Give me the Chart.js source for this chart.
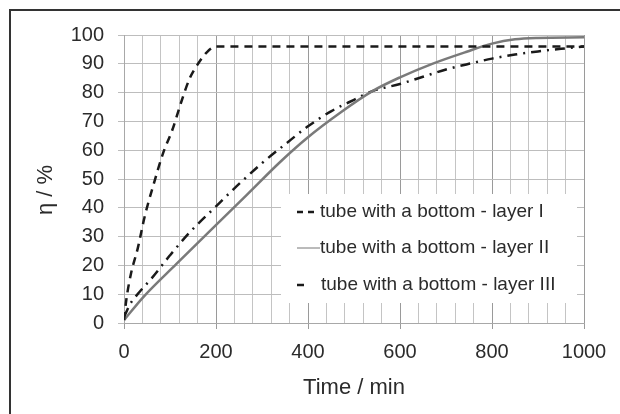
<!DOCTYPE html>
<html>
<head>
<meta charset="utf-8">
<style>
  html, body { margin: 0; padding: 0; background: #fff; }
  #wrap { width: 620px; height: 414px; position: relative; }
</style>
<script src="https://cdn.jsdelivr.net/npm/chart.js@4/dist/chart.umd.min.js"></script>
</head>
<body>
<div id="wrap"><canvas id="eta"></canvas></div>
<script>
// time in minutes, eta in %
var layer1Time = [0, 5, 15, 30, 45, 65, 85, 105, 125, 143, 161, 180, 200, 300, 400, 500, 600, 700, 800, 900, 1000];
var layer1Eta  = [1, 8, 17, 26, 37, 48.5, 59, 67, 77, 85, 90, 94, 96, 96, 96, 96, 96, 96, 96, 96, 96];

var layer2Time = [0, 42, 114, 187, 267, 340, 400, 470, 540, 600, 670, 745, 800, 850, 900, 1000];
var layer2Eta  = [1, 9, 20.5, 32, 44.5, 56, 64.5, 73, 80.5, 85.3, 90, 94.2, 97, 98.5, 99, 99.2];

var layer3Time = [0, 13, 35, 60, 100, 143, 200, 245, 300, 350, 400, 450, 500, 540, 600, 650, 700, 750, 800, 850, 900, 950, 1000];
var layer3Eta  = [2, 6.5, 11, 15.5, 23.5, 31.5, 40.5, 47.5, 55.5, 62, 68.3, 73.5, 77.5, 80.5, 83, 85.5, 88, 90, 91.8, 93.2, 94.3, 95.2, 96];

var seriesNames = [
    'tube with a bottom - layer I',
    'tube with a bottom - layer II',
    'tube with a bottom - layer III'
];

var xTicks = [0, 200, 400, 600, 800, 1000];

function toPoints(xs, ys) {
    return xs.map(function (x, i) { return { x: x, y: ys[i] }; });
}

var FONT = "'Liberation Sans', Arial, sans-serif";
var TXT = '#2b2b2b';

// frame, y title and the white legend box
var decor = {
    id: 'decor',
    beforeDraw: function (chart) {
        var ctx = chart.ctx;
        ctx.save();
        ctx.strokeStyle = '#333';
        ctx.lineWidth = 2;
        ctx.beginPath();
        ctx.moveTo(10, 414);
        ctx.lineTo(10, 10);
        ctx.lineTo(620, 10);
        ctx.stroke();
        ctx.restore();
    },
    beforeDatasetsDraw: function (chart) {
        var ctx = chart.ctx;
        ctx.save();
        ctx.fillStyle = '#fff';
        ctx.fillRect(281, 194, 296, 109);

        var rows = [212, 248, 285];
        var styles = [
            { dash: [6, 5], color: '#1a1a1a', w: 2.5, x0: 297, x1: 318, tx: 320 },
            { dash: [], color: '#777', w: 1, x0: 297, x1: 320, tx: 320 },
            { dash: [], color: '#1a1a1a', w: 2.5, x0: 297, x1: 304, tx: 321 }
        ];
        ctx.font = '19px ' + FONT;
        ctx.textBaseline = 'middle';
        ctx.fillStyle = TXT;
        for (var i = 0; i < 3; i++) {
            var s = styles[i];
            ctx.strokeStyle = s.color;
            ctx.lineWidth = s.w;
            ctx.setLineDash(s.dash);
            ctx.beginPath();
            ctx.moveTo(s.x0, rows[i]);
            ctx.lineTo(s.x1, rows[i]);
            ctx.stroke();
            ctx.fillText(seriesNames[i], s.tx, rows[i]);
        }
        ctx.setLineDash([]);
        ctx.restore();
    },
    afterDraw: function (chart) {
        var ctx = chart.ctx;
        ctx.save();
        ctx.translate(46, 190);
        ctx.rotate(-Math.PI / 2);
        ctx.font = '22px ' + FONT;
        ctx.fillStyle = TXT;
        ctx.textAlign = 'center';
        ctx.textBaseline = 'middle';
        ctx.fillText('η / %', 0, 0);
        ctx.restore();
    }
};

new Chart(document.getElementById('eta'), {
    type: 'scatter',
    data: {
        datasets: [{
            label: seriesNames[0],
            data: toPoints(layer1Time, layer1Eta),
            showLine: true,
            borderColor: '#1a1a1a',
            borderWidth: 2.5,
            borderDash: [8, 6],
            pointRadius: 0,
            cubicInterpolationMode: 'monotone'
        }, {
            label: seriesNames[1],
            data: toPoints(layer2Time, layer2Eta),
            showLine: true,
            borderColor: '#7a7a7a',
            borderWidth: 2.5,
            pointRadius: 0,
            cubicInterpolationMode: 'monotone'
        }, {
            label: seriesNames[2],
            data: toPoints(layer3Time, layer3Eta),
            showLine: true,
            borderColor: '#1a1a1a',
            borderWidth: 2.5,
            borderDash: [10, 6, 2, 6],
            pointRadius: 0,
            cubicInterpolationMode: 'monotone'
        }]
    },
    options: {
        responsive: true,
        maintainAspectRatio: false,
        animation: false,
        layout: { padding: { top: 35, right: 36, left: 0, bottom: 0 } },
        plugins: {
            legend: { display: false },
            tooltip: { enabled: false }
        },
        scales: {
            x: {
                type: 'linear',
                min: 0,
                max: 1000,
                afterFit: function (scale) { scale.height = 91; },
                afterBuildTicks: function (scale) {
                    var t = [];
                    for (var v = 0; v <= 1000; v += 40) t.push({ value: v });
                    scale.ticks = t;
                },
                ticks: {
                    autoSkip: false,
                    maxRotation: 0,
                    padding: 11,
                    color: TXT,
                    font: { family: FONT, size: 20 },
                    callback: function (v) { return xTicks.indexOf(v) >= 0 ? String(v) : ''; }
                },
                grid: {
                    tickLength: 6,
                    color: function (c) { return c.tick && c.tick.value % 200 === 0 ? '#9a9a9a' : '#c4c4c4'; },
                    tickColor: function (c) { return c.tick && c.tick.value % 200 === 0 ? '#9a9a9a' : 'rgba(0,0,0,0)'; }
                },
                border: { color: '#a8a8a8' },
                title: {
                    display: true,
                    text: 'Time / min',
                    color: TXT,
                    font: { family: FONT, size: 22 },
                    padding: { top: 0, bottom: 13 }
                }
            },
            y: {
                min: 0,
                max: 100,
                afterFit: function (scale) { scale.width = 124; },
                ticks: {
                    stepSize: 10,
                    padding: 14,
                    color: TXT,
                    font: { family: FONT, size: 20 }
                },
                grid: {
                    tickLength: 6,
                    color: '#bdbdbd',
                    tickColor: '#bdbdbd'
                },
                border: { color: '#a8a8a8' }
            }
        }
    },
    plugins: [decor]
});
</script>
</body>
</html>
